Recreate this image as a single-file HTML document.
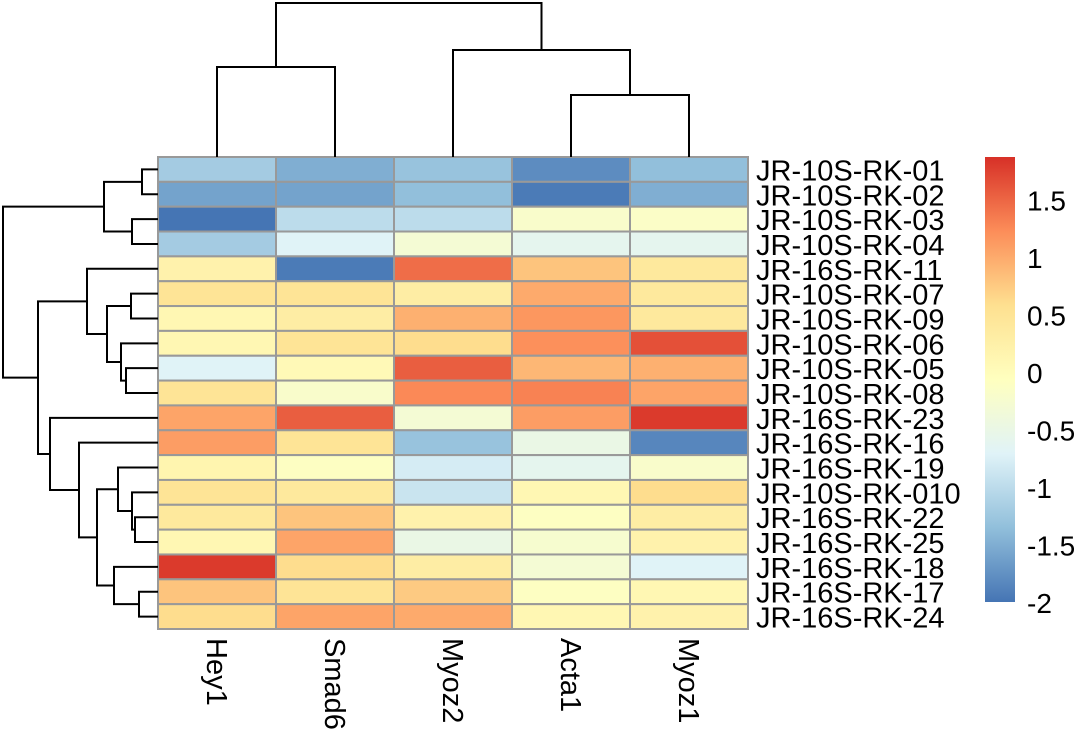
<!DOCTYPE html>
<html><head><meta charset="utf-8"><style>
html,body{margin:0;padding:0;background:#fff;}
svg{display:block;font-family:"Liberation Sans",Arial,sans-serif;}
</style></head><body>
<svg id="chart" width="1080" height="741" xmlns="http://www.w3.org/2000/svg"></svg>
<script>
const rowLabels=["JR-10S-RK-01","JR-10S-RK-02","JR-10S-RK-03","JR-10S-RK-04","JR-16S-RK-11","JR-10S-RK-07","JR-10S-RK-09","JR-10S-RK-06","JR-10S-RK-05","JR-10S-RK-08","JR-16S-RK-23","JR-16S-RK-16","JR-16S-RK-19","JR-10S-RK-010","JR-16S-RK-22","JR-16S-RK-25","JR-16S-RK-18","JR-16S-RK-17","JR-16S-RK-24"];
const colLabels=["Hey1","Smad6","Myoz2","Acta1","Myoz1"];
const hey1=[-1.2,-1.6,-2.0,-1.2,0.2,0.5,0.1,0.1,-0.7,0.5,1.05,1.1,0.15,0.5,0.4,0.1,1.8,0.8,0.6];
const smad6=[-1.5,-1.6,-1.0,-0.7,-1.95,0.5,0.3,0.5,0.05,-0.2,1.55,0.5,-0.1,0.4,0.8,1.05,0.6,0.5,1.05];
const myoz2=[-1.3,-1.35,-1.0,-0.3,1.45,0.3,0.95,0.6,1.55,1.25,-0.3,-1.3,-0.8,-0.9,0.2,-0.5,0.3,0.75,1.0];
const acta1=[-1.8,-1.95,-0.2,-0.6,0.8,1.0,1.15,1.2,0.9,1.3,1.1,-0.5,-0.6,0.1,-0.1,-0.25,-0.3,-0.1,0.1];
const myoz1=[-1.35,-1.5,-0.15,-0.6,0.4,0.4,0.4,1.65,0.95,1.05,1.8,-1.85,-0.2,0.6,0.3,0.2,-0.7,0.1,0.2];
const legendTicks=[-2,-1.5,-1,-0.5,0,0.5,1,1.5];
const legendTickLabels=["-2","-1.5","-1","-0.5","0","0.5","1","1.5"];
// row dendrogram merges: [leftNode,rightNode,x]; leaves 0..18, merged nodes 19+
const rowMerges=[[0,1,142],[2,3,132],[19,20,104],[8,9,126],[7,22,121],[5,6,131],[24,23,107],[4,25,87],[14,15,135],[13,27,132],[12,28,118],[17,18,139],[16,30,114],[29,31,97],[11,32,79],[10,33,50],[26,34,38],[21,35,3]];
// column merges: leaves 0..4, merged nodes 5+
const colMerges=[[0,1,67],[3,4,95],[2,6,50],[5,7,3]];

const NS="http://www.w3.org/2000/svg";
const svg=document.getElementById('chart');
const gx0=158,gx1=748,gy0=157,gy1=629;
const cw=(gx1-gx0)/colLabels.length, rh=(gy1-gy0)/rowLabels.length;
const pal=["#4575B4","#91BFDB","#E0F3F8","#FFFFBF","#FEE090","#FC8D59","#D73027"];
const vmin=-2,vmax=1.87;
function color(v){let t=(v-vmin)/(vmax-vmin);t=Math.max(0,Math.min(1,t))*(pal.length-1);const i=Math.min(pal.length-2,Math.floor(t)),f=t-i;
 const a=pal[i],b=pal[i+1];const c=k=>Math.round(parseInt(a.substr(k,2),16)*(1-f)+parseInt(b.substr(k,2),16)*f);
 return `rgb(${c(1)},${c(3)},${c(5)})`;}
function el(tag,attrs){const e=document.createElementNS(NS,tag);for(const k in attrs)e.setAttribute(k,attrs[k]);svg.appendChild(e);return e;}
const series=[hey1,smad6,myoz2,acta1,myoz1];
const xPos=j=>gx0+j*cw, yPos=i=>gy0+i*rh;
for(let j=0;j<colLabels.length;j++){for(let i=0;i<rowLabels.length;i++){
 const r=el('rect',{x:xPos(j),y:yPos(i),width:cw,height:rh,fill:color(series[j][i]),stroke:'#999999','stroke-width':2});
 
 
}}
for(let i=0;i<rowLabels.length;i++){
 const t=el('text',{x:756,y:yPos(i)+rh/2+11,'font-size':29,fill:'#000'});t.textContent=rowLabels[i];
 
 
}
for(let j=0;j<colLabels.length;j++){
 const cx=xPos(j)+cw/2-10;
 const t=el('text',{x:cx,y:638,'font-size':29,fill:'#000',transform:`rotate(90 ${cx} 638)`});t.textContent=colLabels[j];
 
 
}
function drawDendro(merges,nLeaves,leafPos,horizontalRows,name){
 const pos=[],ht=[];
 for(let i=0;i<nLeaves;i++){pos.push(leafPos(i));ht.push(horizontalRows?gx0:gy0);}
 let d='';
 merges.forEach(m=>{const [a,b,h]=m;
  if(horizontalRows){d+=`M${ht[a]},${pos[a]}H${h}V${pos[b]}H${ht[b]}`;}
  else{d+=`M${pos[a]},${ht[a]}V${h}H${pos[b]}V${ht[b]}`;}
  pos.push((pos[a]+pos[b])/2);ht.push(h);});
 const p=el('path',{d:d,fill:'none',stroke:'#000','stroke-width':2});
 
 
}
drawDendro(rowMerges,rowLabels.length,i=>yPos(i)+rh/2,true,'row-dendrogram');
drawDendro(colMerges,colLabels.length,j=>xPos(j)+cw/2,false,'column-dendrogram');
const lx=985,lw=30,ly0=157,ly1=602;
const defs=el('defs',{});
const grad=document.createElementNS(NS,'linearGradient');grad.setAttribute('id','lg');grad.setAttribute('x1','0');grad.setAttribute('y1','1');grad.setAttribute('x2','0');grad.setAttribute('y2','0');
pal.forEach((c,i)=>{const s=document.createElementNS(NS,'stop');s.setAttribute('offset',i/(pal.length-1));s.setAttribute('stop-color',c);grad.appendChild(s);});
defs.appendChild(grad);
const lb=el('rect',{x:lx,y:ly0,width:lw,height:ly1-ly0,fill:'url(#lg)'});


const ly=v=>ly1-(v-vmin)/(vmax-vmin)*(ly1-ly0);
legendTicks.forEach((v,k)=>{
 const t=el('text',{x:1027,y:ly(v)+11,'font-size':28,fill:'#000'});t.textContent=legendTickLabels[k];
 
 
});
</script>
</body></html>
